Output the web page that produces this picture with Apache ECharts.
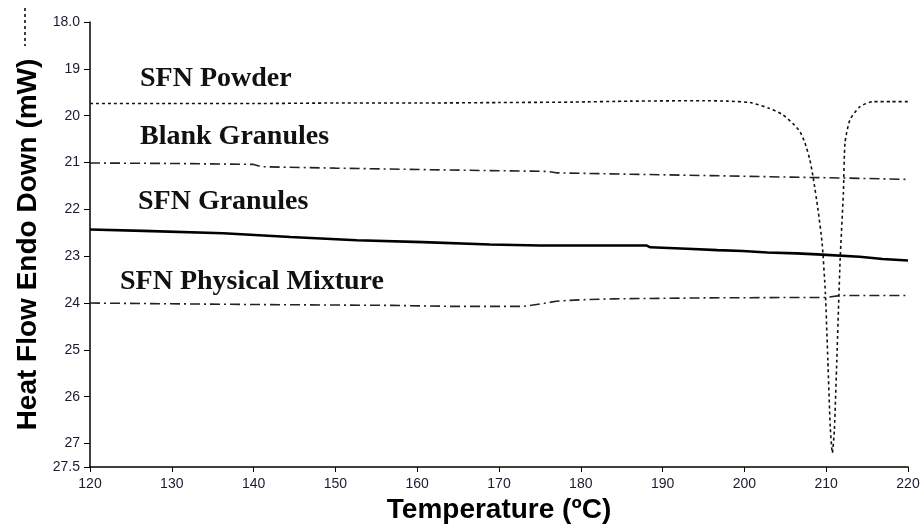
<!DOCTYPE html>
<html>
<head>
<meta charset="utf-8">
<script src="https://cdn.jsdelivr.net/npm/echarts@6/dist/echarts.min.js"></script>
<style>
  html, body { margin: 0; padding: 0; background: #ffffff; }
  #chart { width: 923px; height: 526px; }
</style>
</head>
<body>
<div id="chart"></div>
<script>
// DSC thermograms
var powderT = [120, 130, 140, 150, 160, 170, 179, 186, 195, 198, 200.7, 203, 204.7, 206, 206.8, 207.4, 208.0, 208.4, 209.0, 209.5, 209.9, 210.2, 210.5, 210.75, 211.0, 211.3, 211.7, 212.1, 212.3, 212.9, 214.1, 215.7, 218, 220];
var powderHF = [19.74, 19.74, 19.74, 19.73, 19.73, 19.72, 19.71, 19.69, 19.68, 19.69, 19.72, 19.84, 19.98, 20.18, 20.34, 20.58, 20.94, 21.31, 22.01, 22.72, 23.79, 25.22, 26.66, 27.2, 26.7, 25.22, 23.09, 21.65, 20.58, 20.09, 19.81, 19.70, 19.70, 19.70];

var blankT = [120, 130, 140, 141, 150, 164, 176, 177, 186, 196, 205, 212, 220];
var blankHF = [21.01, 21.02, 21.04, 21.09, 21.12, 21.16, 21.19, 21.22, 21.25, 21.28, 21.31, 21.33, 21.36];

var granT = [120, 126.5, 136.3, 144.5, 152.6, 160.7, 168.9, 175, 188, 188.5, 193, 196.7, 199.8, 202.8, 206.4, 208.9, 214.1, 216.9, 220];
var granHF = [22.43, 22.46, 22.51, 22.59, 22.66, 22.70, 22.75, 22.77, 22.77, 22.81, 22.84, 22.87, 22.89, 22.92, 22.94, 22.96, 23.01, 23.06, 23.09];

var mixT = [120, 139, 157, 164, 173, 175.4, 177, 180, 184, 195, 206.8, 210, 211.7, 220];
var mixHF = [24.00, 24.03, 24.05, 24.07, 24.07, 24.01, 23.96, 23.93, 23.91, 23.89, 23.88, 23.88, 23.84, 23.84];

var seriesNames = ["SFN Powder", "Blank Granules", "SFN Granules", "SFN Physical Mixture"];
var yTickLabels = { 18: "18.0", 27.5: "27.5" };

function pairs(xs, ys) {
  return xs.map(function (x, i) { return [x, ys[i]]; });
}

var chart = echarts.init(document.getElementById("chart"));

var axisFont = { color: "#1a1a33", fontSize: 14, fontFamily: "Liberation Sans" };
var labelFont = 'bold 28px "Liberation Serif"';
var nameFont = { color: "#000", fontSize: 28, fontWeight: "bold", fontFamily: "Liberation Sans" };

var option = {
  animation: false,
  backgroundColor: "#ffffff",
  grid: { left: 90, right: 15, top: 22, bottom: 59, outerBoundsMode: "none", containLabel: false },
  xAxis: {
    type: "value",
    min: 120,
    max: 220,
    interval: 10,
    name: "Temperature (ºC)",
    nameLocation: "middle",
    nameGap: 28,
    nameTextStyle: nameFont,
    axisLine: { lineStyle: { color: "#000", width: 1.5 } },
    axisTick: { length: 5, lineStyle: { color: "#000" } },
    axisLabel: Object.assign({ margin: 10 }, axisFont),
    splitLine: { show: false }
  },
  yAxis: {
    type: "value",
    inverse: true,
    min: 18,
    max: 27.5,
    interval: 1,
    name: "Heat Flow Endo Down (mW)",
    nameLocation: "middle",
    nameRotate: 90,
    nameGap: 48,
    nameTextStyle: nameFont,
    axisLine: { show: true, lineStyle: { color: "#000", width: 1.5 } },
    axisTick: { show: true, length: 6, lineStyle: { color: "#000" } },
    axisLabel: Object.assign({
      margin: 10,
      showMinLabel: true,
      showMaxLabel: true,
      hideOverlap: false,
      formatter: function (v) { return yTickLabels[v] || String(v); }
    }, axisFont),
    splitLine: { show: false }
  },
  graphic: [
    { type: "line", shape: { x1: 25, y1: 8, x2: 25, y2: 46 },
      style: { stroke: "#000", lineWidth: 1.5, lineDash: [3, 3] } },
    { type: "text", x: 140, y: 79, style: { text: seriesNames[0], font: labelFont, fill: "#111", verticalAlign: "middle" } },
    { type: "text", x: 140, y: 137, style: { text: seriesNames[1], font: labelFont, fill: "#111", verticalAlign: "middle" } },
    { type: "text", x: 138, y: 202, style: { text: seriesNames[2], font: labelFont, fill: "#111", verticalAlign: "middle" } },
    { type: "text", x: 120, y: 282, style: { text: seriesNames[3], font: labelFont, fill: "#111", verticalAlign: "middle" } }
  ],
  series: [
    {
      name: seriesNames[0], type: "line", showSymbol: false, smooth: 0.2,
      data: pairs(powderT, powderHF),
      lineStyle: { color: "#111", width: 1.6, type: [3, 3] },
      emphasis: { disabled: true }
    },
    {
      name: seriesNames[1], type: "line", showSymbol: false,
      data: pairs(blankT, blankHF),
      lineStyle: { color: "#222", width: 1.6, type: [10, 4, 2, 4] },
      emphasis: { disabled: true }
    },
    {
      name: seriesNames[2], type: "line", showSymbol: false,
      data: pairs(granT, granHF),
      lineStyle: { color: "#000", width: 2.6, type: "solid" },
      emphasis: { disabled: true }
    },
    {
      name: seriesNames[3], type: "line", showSymbol: false,
      data: pairs(mixT, mixHF),
      lineStyle: { color: "#222", width: 1.6, type: [10, 4, 2, 4] },
      emphasis: { disabled: true }
    }
  ]
};

chart.setOption(option);
</script>
</body>
</html>
